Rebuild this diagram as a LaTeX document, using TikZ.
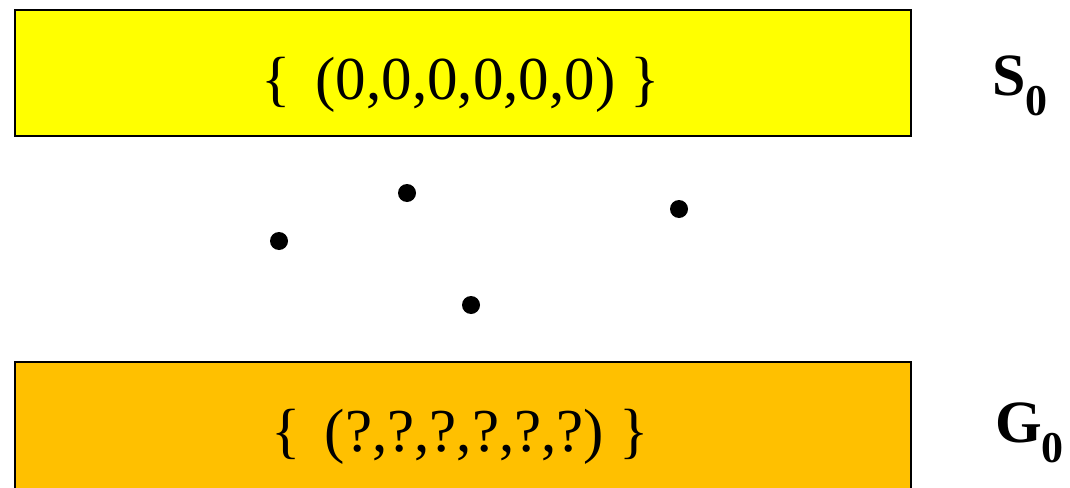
\documentclass[tikz,border=0pt]{standalone}
\usepackage{fontspec}
\setmainfont{Liberation Serif}
\definecolor{boxyellow}{HTML}{FFFF00}
\definecolor{boxorange}{HTML}{FFC000}
\begin{document}
\begin{tikzpicture}[x=1pt,y=-1pt,
  setbox/.style={draw=black,line width=2pt},
  settext/.style={font=\fontsize{61}{64}\selectfont,inner sep=0pt,anchor=base},
  setlabel/.style={font=\fontsize{60}{64}\selectfont\bfseries,inner sep=0pt,anchor=base west},
  pt/.style={circle,fill=black,inner sep=0pt,minimum size=18pt}]
\useasboundingbox (0,0) rectangle (1070,487);
\clip (0,0) rectangle (1070,487);
\path[setbox,fill=boxyellow] (15,10) rectangle (911,136);
\path[setbox,fill=boxorange] (15,362) rectangle (911,500);
\node[settext] (s) at (461,99) {\{\kern0.15em\ (0,0,0,0,0,0)\ \}};
\node[settext] (g) at (460,451) {\{\kern0.15em\ (?,?,?,?,?,?)\ \}};
\node[setlabel] (sl) at (992,95) {S\textsubscript{\fontsize{44}{44}\selectfont 0}};
\node[setlabel] (gl) at (995,442) {G\textsubscript{\fontsize{44}{44}\selectfont 0}};
\node[pt] (d1) at (407,193) {};
\node[pt] (d2) at (679,209) {};
\node[pt] (d3) at (279,241) {};
\node[pt] (d4) at (471,305) {};
\end{tikzpicture}
\end{document}
